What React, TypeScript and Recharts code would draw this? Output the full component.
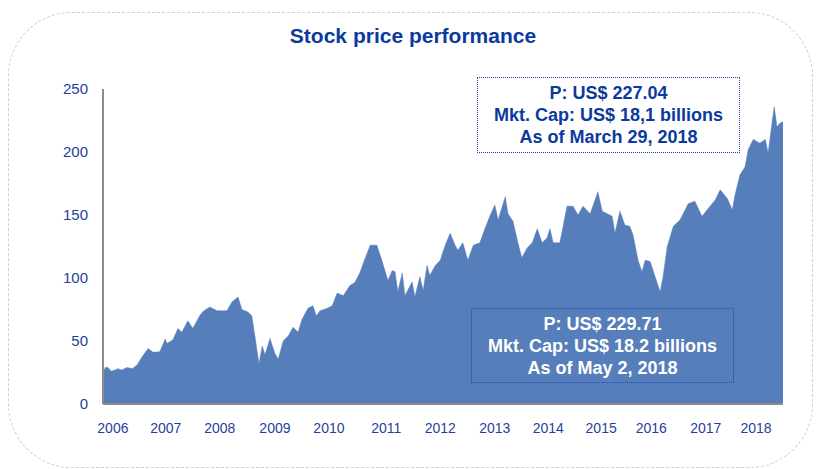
import React from 'react';
import { Area, AreaChart, XAxis, YAxis } from 'recharts';

// decimal year of each reading, and share price (US$)
const dates = [
  2006.0, 2006.04, 2006.09, 2006.15, 2006.22, 2006.27, 2006.34, 2006.44, 2006.53, 2006.62,
  2006.71, 2006.82, 2006.91, 2007.03, 2007.13, 2007.16, 2007.27, 2007.36, 2007.43, 2007.54,
  2007.63, 2007.76, 2007.83, 2007.94, 2008.07, 2008.18, 2008.25, 2008.34, 2008.45, 2008.52,
  2008.63, 2008.7, 2008.76, 2008.83, 2008.89, 2008.94, 2009.03, 2009.12, 2009.18, 2009.27,
  2009.36, 2009.45, 2009.54, 2009.61, 2009.72, 2009.81, 2009.87, 2009.94, 2010.07, 2010.16,
  2010.25, 2010.36, 2010.48, 2010.57, 2010.66, 2010.76, 2010.85, 2010.97, 2011.06, 2011.17,
  2011.25, 2011.3, 2011.35, 2011.43, 2011.48, 2011.61, 2011.66, 2011.75, 2011.81, 2011.88,
  2011.93, 2012.03, 2012.12, 2012.21, 2012.3, 2012.39, 2012.44, 2012.53, 2012.62, 2012.72,
  2012.84, 2012.93, 2013.02, 2013.11, 2013.17, 2013.3, 2013.35, 2013.44, 2013.53, 2013.6,
  2013.7, 2013.79, 2013.88, 2013.97, 2014.06, 2014.11, 2014.17, 2014.29, 2014.35, 2014.42,
  2014.53, 2014.62, 2014.71, 2014.84, 2014.93, 2014.98, 2015.06, 2015.15, 2015.24, 2015.29,
  2015.38, 2015.47, 2015.56, 2015.62, 2015.71, 2015.78, 2015.84, 2015.93, 2016.02, 2016.11,
  2016.16, 2016.24, 2016.35, 2016.47, 2016.62, 2016.74, 2016.87, 2016.98, 2017.11, 2017.2,
  2017.33, 2017.42, 2017.47, 2017.56, 2017.65, 2017.71, 2017.8, 2017.92, 2018.02, 2018.07,
  2018.14, 2018.18, 2018.23, 2018.29, 2018.34,
];

const prices = [
  24, 29, 29, 26, 27, 28, 27, 29, 28, 31,
  37.5, 44, 41, 41.5, 51.5, 48, 51, 60, 57, 66,
  60, 70.5, 74, 77, 74, 74, 74, 81, 85, 75,
  73, 70, 53, 32, 46, 39, 52, 40, 35.5, 50,
  54, 61, 57, 67, 76, 78, 70, 74, 76, 78,
  88, 86, 94, 96.5, 104, 116, 126, 126, 114, 98,
  106, 105, 89, 104, 86, 97, 85, 101, 90, 110,
  102, 110, 114, 126, 135.5, 126, 122, 128, 114, 126,
  128, 139, 149, 158, 146, 164.5, 151, 145, 128, 116,
  124, 128, 139, 128, 132, 139, 128, 128, 141, 157,
  157, 150, 157, 151, 162, 168.5, 153, 151, 149, 135.5,
  153, 142, 141, 134, 114, 105, 114, 113, 101, 89,
  100, 125, 141, 146, 159, 161, 149, 155, 162, 170,
  163, 154, 166, 182, 188, 202, 210, 207, 210, 199,
  223, 236, 220, 223, 224,
];

const yearTicks = [
  2006.18, 2007.14, 2008.12, 2009.12, 2010.1, 2011.14, 2012.12,
  2013.11, 2014.08, 2015.04, 2015.95, 2016.94, 2017.85,
];
const yearLabels = [
  '2006', '2007', '2008', '2009', '2010', '2011', '2012',
  '2013', '2014', '2015', '2016', '2017', '2018',
];
const priceTicks = [0, 50, 100, 150, 200, 250];

const boxTop = ['P: US$ 227.04', 'Mkt. Cap: US$ 18,1 billions', 'As of March 29, 2018'];
const boxBottom = ['P: US$ 229.71', 'Mkt. Cap: US$ 18.2 billions', 'As of May 2, 2018'];

const chartData = dates.map((t, i) => ({ t, price: prices[i] }));

const NAVY = '#0B3A9E';
const FONT = 'Arial, "Liberation Sans", sans-serif';

const InfoBox: React.FC<{
  lines: string[];
  left: number;
  top: number;
  width: number;
  height: number;
  color: string;
}> = ({ lines, left, top, width, height, color }) => (
  <div
    style={{
      position: 'absolute',
      left,
      top,
      width,
      height,
      boxSizing: 'border-box',
      border: '1.2px dotted #1D48B0',
      color,
      fontFamily: FONT,
      fontWeight: 'bold',
      fontSize: 18,
      lineHeight: '22px',
      textAlign: 'center',
      display: 'flex',
      flexDirection: 'column',
      justifyContent: 'center',
    }}
  >
    {lines.map((l) => (
      <div key={l}>{l}</div>
    ))}
  </div>
);

export default function App() {
  return (
    <div style={{ position: 'absolute', left: 0, top: 0, width: 816, height: 469, background: '#fff', overflow: 'hidden' }}>
      <div
        style={{
          position: 'absolute',
          left: 8,
          top: 12,
          width: 805,
          height: 456,
          boxSizing: 'border-box',
          border: '1.5px dashed #cfcfcf',
          borderRadius: 64,
        }}
      />
      <div
        style={{
          position: 'absolute',
          left: 0,
          top: 24,
          width: 826,
          textAlign: 'center',
          fontFamily: FONT,
          fontWeight: 'bold',
          fontSize: 21,
          color: NAVY,
        }}
      >
        Stock price performance
      </div>
      <div style={{ position: 'absolute', left: 0, top: 0 }}>
        <AreaChart width={816} height={469} data={chartData} margin={{ top: 89, right: 33, bottom: 35, left: 0 }}>
          <XAxis
            dataKey="t"
            type="number"
            domain={[2006, 2018.34]}
            ticks={yearTicks}
            tickFormatter={(v: number, i: number) => yearLabels[i]}
            tickLine={false}
            tickMargin={13}
            height={30}
            axisLine={{ stroke: '#8c8c8c', strokeWidth: 2 }}
            tick={{ fill: '#1F3F9C', fontSize: 14, fontFamily: FONT }}
            interval={0}
          />
          <YAxis
            domain={[0, 250]}
            ticks={priceTicks}
            width={103}
            tickLine={false}
            tickMargin={9}
            axisLine={{ stroke: '#8c8c8c', strokeWidth: 2 }}
            tick={{ fill: '#1F3F9C', fontSize: 15, fontFamily: FONT }}
            interval={0}
          />
          <Area
            type="linear"
            dataKey="price"
            stroke="#567EBA"
            strokeWidth={0.5}
            fill="#567EBA"
            fillOpacity={1}
            isAnimationActive={false}
          />
        </AreaChart>
      </div>
      <InfoBox lines={boxTop} left={477} top={77} width={263} height={76} color={NAVY} />
      <InfoBox lines={boxBottom} left={471} top={308} width={263} height={75} color="#ffffff" />
    </div>
  );
}
